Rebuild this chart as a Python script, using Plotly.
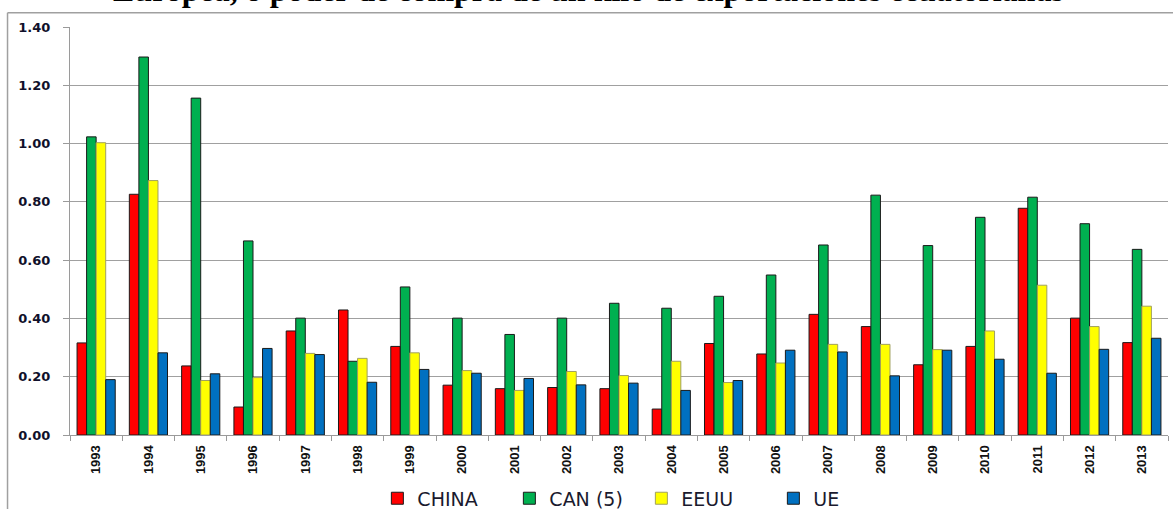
import plotly.graph_objects as go

years = ["1993", "1994", "1995", "1996", "1997", "1998", "1999", "2000", "2001", "2002", "2003",
         "2004", "2005", "2006", "2007", "2008", "2009", "2010", "2011", "2012", "2013"]
china = [0.316, 0.826, 0.237, 0.096, 0.357, 0.429, 0.304, 0.171, 0.159, 0.163, 0.159,
         0.089, 0.314, 0.278, 0.414, 0.372, 0.241, 0.304, 0.778, 0.401, 0.317]
can5 = [1.023, 1.297, 1.156, 0.666, 0.401, 0.253, 0.508, 0.401, 0.345, 0.401, 0.452,
        0.435, 0.476, 0.549, 0.652, 0.823, 0.650, 0.747, 0.816, 0.725, 0.637]
eeuu = [1.003, 0.873, 0.187, 0.197, 0.280, 0.263, 0.282, 0.221, 0.153, 0.218, 0.204,
        0.253, 0.180, 0.247, 0.311, 0.311, 0.293, 0.357, 0.514, 0.372, 0.442]
ue = [0.190, 0.282, 0.210, 0.297, 0.276, 0.181, 0.225, 0.212, 0.194, 0.172, 0.178,
      0.153, 0.187, 0.291, 0.285, 0.203, 0.291, 0.260, 0.212, 0.294, 0.332]

series = [
    ("CHINA", china, "#FF0000", "#1a1a1a"),
    ("CAN (5)", can5, "#00B050", "#1a1a1a"),
    ("EEUU", eeuu, "#FFFF00", "#a0a060"),
    ("UE", ue, "#0070C0", "#1a1a1a"),
]

fig = go.Figure()
for name, vals, col, lc in series:
    fig.add_trace(go.Bar(x=years, y=vals, name=name,
                         marker=dict(color=col, line=dict(color=lc, width=1))))

# plot area geometry (px)
L, R, T, B = 69.5, 1168, 27.3, 434.7
W, H = R - L, B - T

def px_x(p):
    return (p - L) / W

def px_y(p):
    return (B - p) / H

fig.update_layout(
    width=1173, height=509,
    margin=dict(l=L, r=1173 - R, t=T, b=509 - B, autoexpand=False),
    paper_bgcolor="white", plot_bgcolor="white",
    barmode="group", bargap=0.27, bargroupgap=0,
    showlegend=True,
    legend=dict(orientation="h", x=px_x(377), xanchor="left", y=px_y(498), yanchor="middle",
                font=dict(family="DejaVu Sans", size=19, color="#1a1a2e"),
                entrywidth=87, itemclick=False, bgcolor="rgba(0,0,0,0)"),
    xaxis=dict(type="category", showgrid=False, showline=True, linecolor="#9a9a9a", linewidth=1,
               ticks="outside", tickson="boundaries", ticklen=5, tickcolor="#9a9a9a",
               tickangle=-90, ticklabelstandoff=4,
               tickfont=dict(family="Liberation Sans", size=13, color="#111111", weight="bold")),
    yaxis=dict(range=[0, 1.4], dtick=0.2, tickformat=".2f", showgrid=True, gridcolor="#a0a0a0",
               gridwidth=1, showline=True, linecolor="#9a9a9a", linewidth=1, zeroline=False,
               ticks="outside", ticklen=6, tickcolor="#9a9a9a", ticklabelstandoff=10,
               tickfont=dict(family="DejaVu Sans", size=13, color="#10102a", weight="bold")),
    shapes=[
        dict(type="line", xref="paper", yref="paper", x0=px_x(7), x1=px_x(1200), y0=px_y(13), y1=px_y(13),
             line=dict(color="#a0a0a0", width=1.5), layer="above"),
        dict(type="line", xref="paper", yref="paper", x0=px_x(7), x1=px_x(7), y0=px_y(13), y1=px_y(560),
             line=dict(color="#a0a0a0", width=1.5)),
    ],
    annotations=[
        dict(text="<b>Europea, o poder de compra de un kilo de exportaciones ecuatorianas</b>",
             xref="paper", yref="paper", x=px_x(588), y=px_y(10), xanchor="center", yanchor="bottom",
             showarrow=False, font=dict(family="Liberation Serif", size=32, color="black")),
    ],
)

fig.write_html("out.html", config={"displayModeBar": False},
               post_script="document.body.style.margin='0';document.body.style.overflow='hidden';")
